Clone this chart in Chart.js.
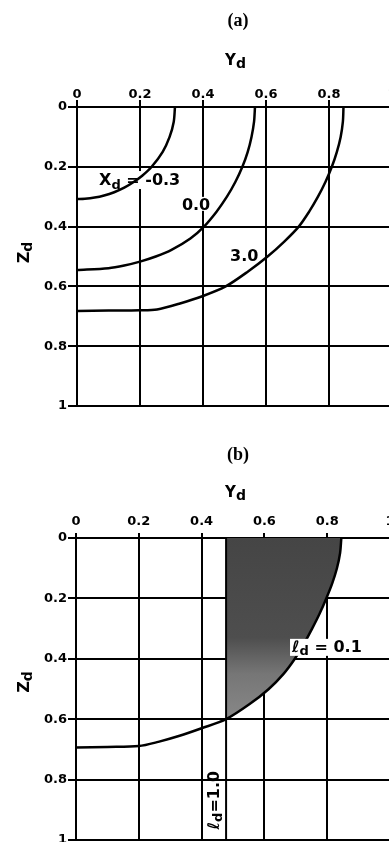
<!DOCTYPE html>
<html>
<head>
<meta charset="utf-8">
<script src="https://cdn.jsdelivr.net/npm/chart.js@4.4.1/dist/chart.umd.min.js"></script>
<style>
html, body { margin: 0; padding: 0; background: #fff; overflow: hidden; }
#page { position: relative; width: 389px; height: 842px; overflow: hidden; }
#chartA { position: absolute; left: 0; top: 0; }
#chartB { position: absolute; left: 0; top: 420px; }
</style>
</head>
<body>
<div id="page">
    <canvas id="chartA" width="430" height="420"></canvas>
    <canvas id="chartB" width="430" height="440"></canvas>
</div>
<script>
// tick values (both panels)
const ydTicks = [0, 0.2, 0.4, 0.6, 0.8, 1];
const zdTicks = [0, 0.2, 0.4, 0.6, 0.8, 1];

// panel (a) : X_d = -0.3
const ydXm03 = [0.311, 0.307, 0.294, 0.272, 0.237, 0.207, 0.181, 0.15, 0.118, 0.086, 0.056, 0.025, 0];
const zdXm03 = [0, 0.05, 0.1, 0.15, 0.2, 0.23, 0.25, 0.27, 0.285, 0.296, 0.303, 0.307, 0.308];

// panel (a) : X_d = 0.0
const ydX00 = [0.565, 0.562, 0.554, 0.542, 0.525, 0.503, 0.476, 0.443, 0.403, 0.36, 0.3, 0.25, 0.2, 0.15, 0.1, 0];
const zdX00 = [0, 0.05, 0.1, 0.15, 0.2, 0.25, 0.3, 0.35, 0.4, 0.44, 0.478, 0.5, 0.517, 0.53, 0.539, 0.545];

// panel (a) : X_d = 3.0
const ydX30 = [0.846, 0.844, 0.837, 0.825, 0.809, 0.789, 0.765, 0.737, 0.704, 0.658, 0.605, 0.543, 0.472, 0.4, 0.327, 0.254, 0.2, 0.1, 0];
const zdX30 = [0, 0.05, 0.1, 0.15, 0.2, 0.25, 0.3, 0.35, 0.4, 0.45, 0.5, 0.55, 0.6, 0.632, 0.657, 0.677, 0.68, 0.681, 0.682];

// panel (b) : l_d = 0.1 curve
const ydL01 = [0.845, 0.841, 0.831, 0.816, 0.797, 0.776, 0.752, 0.726, 0.697, 0.661, 0.614, 0.553, 0.478, 0.4, 0.33, 0.262, 0.2, 0.1, 0];
const zdL01 = [0, 0.05, 0.1, 0.15, 0.2, 0.25, 0.3, 0.35, 0.4, 0.45, 0.5, 0.55, 0.6, 0.63, 0.655, 0.675, 0.689, 0.692, 0.694];

// panel (b) : l_d = 1.0 is a vertical line
const ydL10 = 0.478;
const zdL10 = [0, 1];


const pts = (ys, zs) => ys.map((y, i) => ({ x: y, y: zs[i] }));

// shaded part: between l_d = 1.0 and the l_d = 0.1 curve
const cut = ydL01.findIndex(v => v <= ydL10);
const shadePts = pts(ydL01.slice(0, cut + 1), zdL01.slice(0, cut + 1));
shadePts.push({ x: ydL10, y: 0 });


// darker on top, lighter grey below z = 0.4 (as in the scan)
function shadeFill(context) {
    const chart = context.chart;
    if (!chart.chartArea) return "#555";
    const y = chart.scales.y;
    const g = chart.ctx.createLinearGradient(0, y.getPixelForValue(0), 0, y.getPixelForValue(0.6));
    g.addColorStop(0, "#454545");
    g.addColorStop(0.55, "#4e4e4e");
    g.addColorStop(0.75, "#767676");
    g.addColorStop(1, "#888888");
    return g;
}


function runs(ctx, parts) {
    let w = 0;
    const out = parts.map(p => {
        ctx.font = `${p.style || ""} bold ${p.size}px ${p.family || "'DejaVu Sans'"}`;
        const width = ctx.measureText(p.t).width;
        const r = Object.assign({}, p, { x: w, width });
        w += width;
        return r;
    });
    return { out, width: w };
}

function anchor(chart, item) {
    if (item.data) {
        return [chart.scales.x.getPixelForValue(item.data[0]), chart.scales.y.getPixelForValue(item.data[1])];
    }
    return item.px;
}

function drawItem(chart, item, what) {
    const ctx = chart.ctx;
    const [x, y] = anchor(chart, item);
    ctx.save();
    ctx.translate(x, y);
    if (item.rot) ctx.rotate(item.rot);
    const { out, width } = runs(ctx, item.parts);
    const x0 = item.align === "center" ? -width / 2 : 0;
    if (what === "bg") {
        const box = item.box || [-13, 5];
        ctx.fillStyle = "#fff";
        ctx.fillRect(x0 - 2, box[0], width + 4, box[1] - box[0]);
    } else {
        ctx.fillStyle = "#000";
        ctx.textBaseline = "alphabetic";
        ctx.textAlign = "left";
        out.forEach(r => {
            ctx.font = `${r.style || ""} bold ${r.size}px ${r.family || "'DejaVu Sans'"}`;
            ctx.fillText(r.t, x0 + r.x, r.dy || 0);
        });
    }
    ctx.restore();
}

const textLayer = {
    id: "textLayer",
    beforeDatasetsDraw(chart, args, opts) {
        opts.items.filter(i => i.bg === "under").forEach(i => drawItem(chart, i, "bg"));
    },
    afterDatasetsDraw(chart, args, opts) {
        opts.items.filter(i => i.bg === "over").forEach(i => drawItem(chart, i, "bg"));
        opts.items.forEach(i => drawItem(chart, i, "text"));
    }
};


function axes(p) {
    const font = { family: "'DejaVu Sans'", size: 13, weight: "bold", lineHeight: 1 };
    return {
        x: {
            type: "linear",
            position: "top",
            min: 0,
            max: 1,
            afterBuildTicks: s => { s.ticks = ydTicks.map(v => ({ value: v })); },
            afterFit: s => { s.height = p.top; },
            ticks: { font, color: "#000", padding: p.xPad, maxRotation: 0, callback: v => String(v) },
            grid: { color: "#000", lineWidth: 2, tickLength: p.xTick, tickWidth: 2, tickColor: "#000" },
            border: { display: true, color: "#000", width: 2 }
        },
        y: {
            type: "linear",
            reverse: true,
            min: 0,
            max: 1,
            afterBuildTicks: s => { s.ticks = zdTicks.map(v => ({ value: v })); },
            afterFit: s => { s.width = p.left; },
            ticks: { font, color: "#000", padding: p.yPad, callback: v => String(v) },
            grid: { color: "#000", lineWidth: 2, tickLength: p.yTick, tickWidth: 2, tickColor: "#000" },
            border: { display: true, color: "#000", width: 2 }
        }
    };
}

function curve(data, extra) {
    return Object.assign({
        data,
        showLine: true,
        borderColor: "#000",
        borderWidth: 2.5,
        pointRadius: 0,
        tension: 0.3,
        fill: false
    }, extra || {});
}

function makeChart(id, datasets, p, items) {
    return new Chart(document.getElementById(id), {
        type: "scatter",
        data: { datasets },
        options: {
            responsive: false,
            devicePixelRatio: 1,
            animation: false,
            events: [],
            layout: { padding: { left: 0, top: 0, right: p.padR, bottom: p.padB } },
            scales: axes(p),
            plugins: {
                legend: { display: false },
                tooltip: { enabled: false },
                textLayer: { items }
            }
        },
        plugins: [textLayer]
    });
}


const sub = (size, dy) => ({ t: "d", size, dy });

makeChart("chartA", [
    curve(pts(ydXm03, zdXm03)),
    curve(pts(ydX00, zdX00)),
    curve(pts(ydX30, zdX30))
], { top: 107, left: 77, padR: 38, padB: 14, xTick: 7, xPad: -1, yTick: 9, yPad: 1 }, [
    { px: [238, 26], align: "center", parts: [{ t: "(a)", size: 18, family: "'Liberation Serif'" }] },
    { px: [235.5, 65], align: "center", parts: [{ t: "Y", size: 15 }, sub(14, 3)] },
    { px: [29, 252.5], rot: -Math.PI / 2, align: "center", parts: [{ t: "Z", size: 16 }, sub(14, 3)] },
    { data: [0.07, 0.261], bg: "under", box: [-14, 4], parts: [{ t: "X", size: 16 }, sub(13, 4), { t: " = -0.3", size: 16 }] },
    { data: [0.333, 0.344], bg: "under", box: [-13, 1], parts: [{ t: "0.0", size: 16 }] },
    { data: [0.486, 0.515], bg: "under", box: [-13, 1], parts: [{ t: "3.0", size: 16 }] }
]);

makeChart("chartB", [
    curve(pts(ydL01, zdL01)),
    curve(pts([ydL10, ydL10], zdL10), { tension: 0, borderWidth: 2 }),
    curve(shadePts, { borderWidth: 0, borderColor: "rgba(0,0,0,0)", tension: 0, fill: "shape", backgroundColor: shadeFill })
], { top: 118, left: 76, padR: 40, padB: 20, xTick: 5, xPad: 5, yTick: 8, yPad: 1 }, [
    { px: [238, 40], align: "center", parts: [{ t: "(b)", size: 18, family: "'Liberation Serif'" }] },
    { px: [235.5, 77], align: "center", parts: [{ t: "Y", size: 15 }, sub(14, 3)] },
    { px: [29, 262], rot: -Math.PI / 2, align: "center", parts: [{ t: "Z", size: 16 }, sub(14, 3)] },
    { data: [0.688, 0.377], bg: "over", box: [-13, 4], parts: [{ t: "ℓ", size: 16, style: "italic" }, sub(13, 3), { t: " = 0.1", size: 16 }] },
    { data: [0.456, 0.868], rot: -Math.PI / 2, align: "center", parts: [{ t: "ℓ", size: 16, style: "italic" }, sub(13, 3), { t: "=1.0", size: 16 }] }
]);
</script>
</body>
</html>
